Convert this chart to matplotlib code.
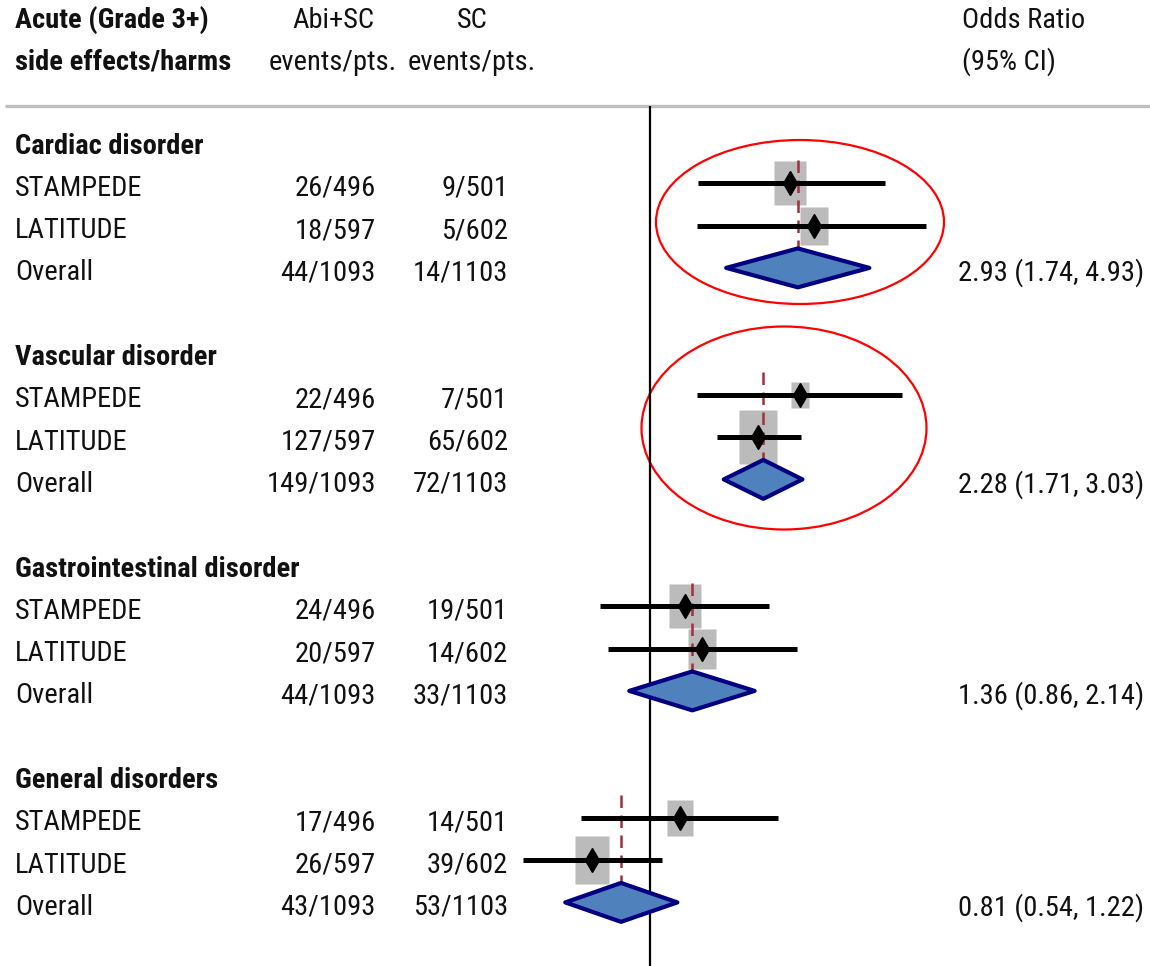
import numpy as np
import matplotlib
matplotlib.use('Agg')
import matplotlib.pyplot as plt
from matplotlib import font_manager
from matplotlib.patches import Ellipse
from matplotlib.transforms import blended_transform_factory

# data
groups = ['Cardiac disorder', 'Vascular disorder', 'Gastrointestinal disorder', 'General disorders']
studies = ['STAMPEDE', 'LATITUDE']
abi_events = [[26, 18], [22, 127], [24, 20], [17, 26]]
abi_pts = [496, 597]
sc_events = [[9, 5], [7, 65], [19, 14], [14, 39]]
sc_pts = [501, 602]
study_or = [[2.77, 3.30], [2.98, 2.19], [1.29, 1.46], [1.24, 0.656]]
study_lo = [[1.42, 1.41], [1.41, 1.63], [0.695, 0.737], [0.605, 0.397]]
study_hi = [[5.52, 7.44], [6.25, 3.00], [2.38, 2.91], [2.54, 1.09]]
weights = [[57, 43], [19, 81], [55, 45], [36, 64]]
overall_or = [2.93, 2.28, 1.36, 0.81]
overall_lo = [1.74, 1.71, 0.86, 0.54]
overall_hi = [4.93, 3.03, 2.14, 1.22]

# pick a narrow sans that has a bold face (reference uses Arial Narrow)
fonts = {}
for f in font_manager.fontManager.ttflist:
    fonts.setdefault(f.name, set()).add(f.weight)
font, stretch = 'DejaVu Sans', 'condensed'
for cand in ['Liberation Sans Narrow', 'Arial Narrow', 'Roboto Condensed', 'PT Sans Narrow',
             'Pragati Narrow', 'Archivo Narrow', 'Fira Sans Condensed']:
    w = fonts.get(cand, set())
    if any(int(x) >= 600 for x in w if str(x).isdigit()) or 'bold' in w:
        font, stretch = cand, 'normal'
        break
plt.rcParams['font.family'] = [font, 'DejaVu Sans']
plt.rcParams['font.stretch'] = stretch
fs = 20.5
tc = '#111111'

W, H = 1150, 966
fig = plt.figure(figsize=(W / 100, H / 100), dpi=100)

# background axes in pixel units for header and annotations
bg = fig.add_axes([0, 0, 1, 1])
bg.set_xlim(0, W)
bg.set_ylim(H, 0)
bg.axis('off')

bg.text(15, 20, 'Acute (Grade 3+)', fontsize=fs, fontweight='bold', va='center', color=tc)
bg.text(15, 62, 'side effects/harms', fontsize=fs, fontweight='bold', va='center', color=tc)
bg.text(333, 20, 'Abi+SC', fontsize=fs, ha='center', va='center', color=tc)
bg.text(333, 62, 'events/pts.', fontsize=fs, ha='center', va='center', color=tc)
bg.text(472, 20, 'SC', fontsize=fs, ha='center', va='center', color=tc)
bg.text(472, 62, 'events/pts.', fontsize=fs, ha='center', va='center', color=tc)
bg.text(962, 20, 'Odds Ratio', fontsize=fs, va='center', color=tc)
bg.text(962, 62, '(95% CI)', fontsize=fs, va='center', color=tc)
bg.plot([5, W], [106, 106], color='#bfbfbf', lw=2.4, solid_capstyle='butt')

# forest axes: log odds ratio scale
k = 137.5  # px per ln unit
x0 = 650
ax = fig.add_axes([500 / W, 0, 450 / W, 1])
ax.set_xscale('log')
ax.set_xlim(np.exp((500 - x0) / k), np.exp((950 - x0) / k))
row_px, top_px = 42.3, 141
ax.set_ylim((H - top_px) / row_px, -top_px / row_px)
ax.axis('off')
ax.patch.set_alpha(0)

ax.vlines(1, (106 - top_px) / row_px, (H - top_px) / row_px, color='black', lw=1.6)

txt = blended_transform_factory(fig.transFigure, ax.transData)
box = [(-0.5, -0.7), (0.5, -0.7), (0.5, 0.7), (-0.5, 0.7)]

for g, name in enumerate(groups):
    head = g * 5
    rows = [head + 1, head + 2]
    orow = head + 3
    dy = 0.12
    fig.text(15 / W, head + dy, name, transform=txt, fontsize=fs, fontweight='bold',
             va='center', color=tc)
    for i, st in enumerate(studies):
        y = rows[i]
        fig.text(15 / W, y + dy, st, transform=txt, fontsize=fs, va='center', color=tc)
        fig.text(376 / W, y + dy, f'{abi_events[g][i]}/{abi_pts[i]}', transform=txt,
                 fontsize=fs, va='center', ha='right', color=tc)
        fig.text(508 / W, y + dy, f'{sc_events[g][i]}/{sc_pts[i]}', transform=txt,
                 fontsize=fs, va='center', ha='right', color=tc)
        h = 4.24 * np.sqrt(weights[g][i]) * 1.4 * 0.72
        ax.plot(study_or[g][i], y, marker=box, ms=h, color='#bbbbbb', mec='none', zorder=2)
    fig.text(15 / W, orow + dy, 'Overall', transform=txt, fontsize=fs, va='center', color=tc)
    fig.text(376 / W, orow + dy, f'{sum(abi_events[g])}/{sum(abi_pts)}', transform=txt,
             fontsize=fs, va='center', ha='right', color=tc)
    fig.text(508 / W, orow + dy, f'{sum(sc_events[g])}/{sum(sc_pts)}', transform=txt,
             fontsize=fs, va='center', ha='right', color=tc)
    fig.text(1144 / W, orow + dy,
             f'{overall_or[g]:.2f} ({overall_lo[g]:.2f}, {overall_hi[g]:.2f})',
             transform=txt, fontsize=fs, va='center', ha='right', color=tc)

    ax.vlines(overall_or[g], rows[0] - 0.55, orow - 0.45, color='#a0303a', lw=1.8,
              linestyles=(0, (5, 3)), zorder=3)
    ax.hlines(rows, study_lo[g], study_hi[g], color='black', lw=3.6, zorder=4)
    ax.plot(study_or[g], rows, 'd', color='black', ms=12.5, zorder=5, lw=0)
    ax.fill([overall_lo[g], overall_or[g], overall_hi[g], overall_or[g]],
            [orow, orow - 0.46, orow, orow + 0.46],
            facecolor='#4f81bd', edgecolor='#000080', lw=3.0, joinstyle='round', zorder=4)

# red highlight rings
bg.add_patch(Ellipse((800, 222), 288, 164, fill=False, ec='#ff0000', lw=1.6))
bg.add_patch(Ellipse((784, 428), 285, 203, fill=False, ec='#ff0000', lw=1.6))

fig.savefig('out.png', dpi=100)
